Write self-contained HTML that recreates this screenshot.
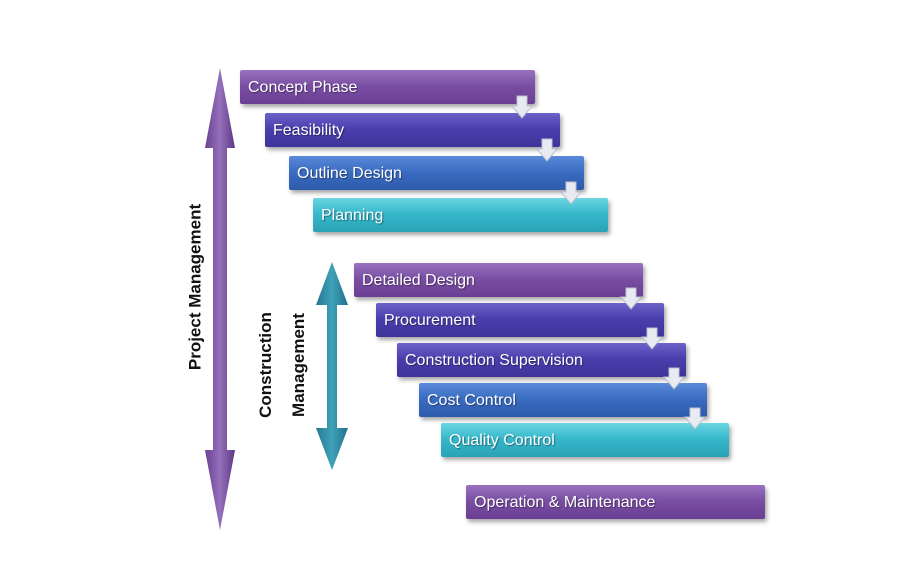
<!DOCTYPE html>
<html><head><style>
body{margin:0;background:#fff;}
#c{position:relative;width:900px;height:564px;overflow:hidden;font-family:"Liberation Sans",sans-serif;}
.b{position:absolute;height:34px;color:#fff;font-size:16px;line-height:36px;padding-left:8px;box-sizing:border-box;border-radius:2px;box-shadow:2px 3px 4px rgba(0,0,0,0.35);text-shadow:1px 1px 1px rgba(0,0,0,0.4);}
.p{background:linear-gradient(#9a72c0,#7a4fa3 45%,#6a3f93);}
.i{background:linear-gradient(#6c62c8,#4b3fae 45%,#3e3399);}
.u{background:linear-gradient(#5a8ad8,#3a6cc2 45%,#2e5bab);}
.t{background:linear-gradient(#6ad6e2,#38b8cb 45%,#2aa2b5);}
.lab{position:absolute;font-weight:bold;font-size:17px;color:#111;white-space:nowrap;transform:translate(-50%,-50%) rotate(-90deg);text-align:center;line-height:33px;}
</style></head><body><div id="c">
<svg width="900" height="564" style="position:absolute;left:0;top:0">
<defs>
<linearGradient id="pg" x1="0" x2="1"><stop offset="0" stop-color="#6a4190"/><stop offset="0.5" stop-color="#9570bb"/><stop offset="1" stop-color="#5e3885"/></linearGradient>
<linearGradient id="tg" x1="0" x2="1"><stop offset="0" stop-color="#26788f"/><stop offset="0.5" stop-color="#3fa2b8"/><stop offset="1" stop-color="#21708a"/></linearGradient>
</defs>
<polygon points="220,68 235,148 227,148 227,450 235,450 220,530 205,450 213,450 213,148 205,148" fill="url(#pg)"/>
<polygon points="332,262 348,305 337,305 337,428 348,428 332,470 316,428 327,428 327,305 316,305" fill="url(#tg)"/>
</svg>
<div class="lab" style="left:195px;top:287px">Project Management</div>
<div class="lab" style="left:282px;top:365px">Construction<br>Management</div>
<div class="b p" style="left:240px;top:70px;width:295px">Concept Phase</div>
<div class="b i" style="left:265px;top:113px;width:295px">Feasibility</div>
<div class="b u" style="left:289px;top:156px;width:295px">Outline Design</div>
<div class="b t" style="left:313px;top:198px;width:295px">Planning</div>
<div class="b p" style="left:354px;top:263px;width:289px">Detailed Design</div>
<div class="b i" style="left:376px;top:303px;width:288px">Procurement</div>
<div class="b i" style="left:397px;top:343px;width:289px">Construction Supervision</div>
<div class="b u" style="left:419px;top:383px;width:288px">Cost Control</div>
<div class="b t" style="left:441px;top:423px;width:288px">Quality Control</div>
<div class="b p" style="left:466px;top:485px;width:299px">Operation &amp; Maintenance</div>
<svg width="900" height="564" style="position:absolute;left:0;top:0">
<g fill="#e8ecf2" stroke="#b8c0cc" stroke-width="1">
<polygon points="517,96 527,96 527,106 532,106 522,118 512,106 517,106"/>
<polygon points="542,139 552,139 552,149 557,149 547,161 537,149 542,149"/>
<polygon points="566,182 576,182 576,192 581,192 571,204 561,192 566,192"/>
<polygon points="626,288 636,288 636,297 641,297 631,309 621,297 626,297"/>
<polygon points="647,328 657,328 657,337 662,337 652,349 642,337 647,337"/>
<polygon points="669,368 679,368 679,377 684,377 674,389 664,377 669,377"/>
<polygon points="690,408 700,408 700,417 705,417 695,429 685,417 690,417"/>
</g>
</svg>
</div></body></html>
